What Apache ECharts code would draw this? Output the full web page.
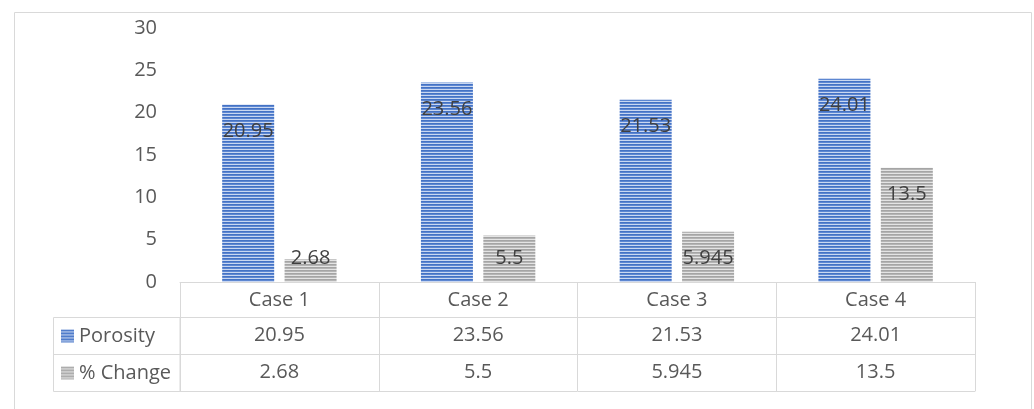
<!DOCTYPE html>
<html>
<head>
<meta charset="utf-8">
<script src="https://cdn.jsdelivr.net/npm/echarts@6/dist/echarts.min.js"></script>
<style>
  html, body { margin: 0; padding: 0; background: #fff; }
  #chart { width: 1034px; height: 409px; }
</style>
</head>
<body>
<div id="chart"></div>
<script>
const categories = ['Case 1', 'Case 2', 'Case 3', 'Case 4'];
const porosity = [20.95, 23.56, 21.53, 24.01];
const pctChange = [2.68, 5.5, 5.945, 13.5];
const seriesNames = ['Porosity', '% Change'];

const textColor = '#595959';
const lineColor = '#d9d9d9';
const font = 'Open Sans';
const fontSize = 20;

// horizontal stripe fill like the Excel pattern
function stripes(dark, mid, light) {
  const c = document.createElement('canvas');
  c.width = 4;
  c.height = 3;
  const ctx = c.getContext('2d');
  ctx.fillStyle = dark; ctx.fillRect(0, 0, 4, 1);
  ctx.fillStyle = mid; ctx.fillRect(0, 1, 4, 1);
  ctx.fillStyle = light; ctx.fillRect(0, 2, 4, 1);
  return { image: c, repeat: 'repeat' };
}
const bluePattern = stripes('#4472c4', '#5d87d2', '#c9d7f1');
const greyPattern = stripes('#a5a5a5', '#b5b5b5', '#e4e4e4');

const chart = echarts.init(document.getElementById('chart'));

// keep inside-end labels above the table when a bar is short
function insideEnd(p) {
  const r = p.rect;
  return {
    x: r.x + r.width / 2,
    y: Math.min(r.y + 27, r.y + r.height - 24),
    align: 'center',
    verticalAlign: 'middle',
  };
}

function tableAxis(data, offset, showLabel) {
  return {
    type: 'category',
    position: 'bottom',
    offset: offset,
    data: data,
    axisLine: { show: true, lineStyle: { color: lineColor, width: 1 } },
    axisTick: { show: false },
    axisLabel: { show: showLabel, color: textColor, fontSize: fontSize, fontFamily: font, margin: 8 },
  };
}

const label = {
  show: true,
  color: '#404040',
  fontSize: 20,
  fontFamily: font,
};

chart.setOption({
  animation: false,
  grid: { left: 180, right: 59, top: 28, bottom: 127 },
  legend: {
    orient: 'vertical',
    left: 61,
    top: 326,
    padding: 0,
    itemWidth: 13,
    itemHeight: 13,
    itemGap: 17,
    icon: 'rect',
    textStyle: { color: textColor, fontSize: fontSize, fontFamily: font, lineHeight: 20 },
    data: seriesNames,
  },
  xAxis: [
    {
      type: 'category',
      position: 'bottom',
      data: categories,
      axisLine: { show: true, lineStyle: { color: lineColor, width: 1 } },
      axisTick: { show: true, length: 109, lineStyle: { color: lineColor } },
      axisLabel: { color: textColor, fontSize: fontSize, fontFamily: font, margin: 8 },
    },
    tableAxis(porosity.map(String), 35, true),
    tableAxis(pctChange.map(String), 72, true),
    tableAxis(categories, 109, false),
  ],
  yAxis: {
    type: 'value',
    min: 0,
    max: 30,
    interval: 5,
    axisLine: { show: false },
    axisTick: { show: false },
    splitLine: { show: false },
    axisLabel: { color: textColor, fontSize: fontSize, fontFamily: font, margin: 23 },
  },
  series: [
    {
      name: seriesNames[0],
      type: 'bar',
      data: porosity,
      barWidth: 52,
      barGap: '20%',
      itemStyle: { color: bluePattern },
      label: label,
      labelLayout: insideEnd,
    },
    {
      name: seriesNames[1],
      type: 'bar',
      data: pctChange,
      barWidth: 52,
      barGap: '20%',
      itemStyle: { color: greyPattern },
      label: label,
      labelLayout: insideEnd,
    },
  ],
  graphic: [
    // outer chart border
    { type: 'rect', shape: { x: 14.5, y: 12.5, width: 1017, height: 420 },
      style: { fill: 'none', stroke: lineColor, lineWidth: 1 }, silent: true },
    // row header column of the data table
    { type: 'rect', shape: { x: 53.5, y: 317.5, width: 126.5, height: 74 },
      style: { fill: 'none', stroke: lineColor, lineWidth: 1 }, silent: true },
    { type: 'line', shape: { x1: 53.5, y1: 354.5, x2: 180, y2: 354.5 },
      style: { stroke: lineColor, lineWidth: 1 }, silent: true },
  ],
});
</script>
</body>
</html>
